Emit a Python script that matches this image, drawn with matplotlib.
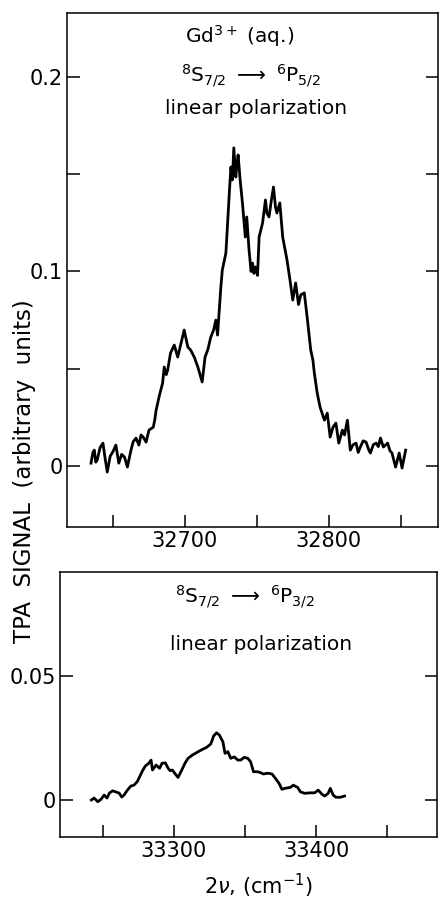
import matplotlib
matplotlib.use("Agg")
import matplotlib.pyplot as plt

plt.rcParams['font.family'] = ['DejaVu Sans']
plt.rcParams['mathtext.fontset'] = 'dejavusans'

# ---- data: upper panel (8S7/2 -> 6P5/2) ----
x_top = [32634.7, 32636, 32637, 32638, 32639, 32641, 32643, 32644.5, 32646, 32648,
         32650, 32652, 32654, 32656, 32658, 32660, 32662.5, 32664, 32666, 32668,
         32669.5, 32671, 32673, 32675, 32678, 32679, 32680, 32682, 32684.5, 32685.6,
         32687, 32688, 32690, 32692.6, 32695, 32697, 32699.5, 32702, 32704, 32706.5,
         32709, 32712, 32714, 32716, 32718, 32720, 32721.5, 32722.7, 32725, 32726,
         32728.5, 32731, 32732, 32733, 32734, 32735.4, 32736, 32737, 32738.4, 32740,
         32742, 32743, 32744.6, 32746, 32747, 32748, 32749, 32750.5, 32751.6, 32754,
         32756, 32757, 32758.5, 32760, 32761.6, 32763, 32764, 32766, 32768, 32771,
         32773, 32775, 32777, 32779, 32780.6, 32783, 32785, 32787.5, 32789, 32790,
         32792, 32794, 32797, 32799, 32801, 32803, 32805, 32807, 32809.5, 32811,
         32813, 32815, 32817, 32819, 32820.5, 32822, 32824, 32826, 32828, 32829,
         32831, 32833, 32834.5, 32836, 32838, 32841, 32842.5, 32844, 32846.5, 32849,
         32851, 32853.5]
y_top = [0.0015, 0.0070, 0.0082, 0.0020, 0.0031, 0.0095, 0.0118, 0.0040, -0.0031, 0.0050,
         0.0075, 0.0108, 0.0015, 0.0060, 0.0046, -0.0005, 0.0082, 0.0125, 0.0144, 0.0108,
         0.0160, 0.0149, 0.0123, 0.0185, 0.0200, 0.0236, 0.0288, 0.0355, 0.0427, 0.0509,
         0.0470, 0.0493, 0.0581, 0.0622, 0.0560, 0.0622, 0.0699, 0.0612, 0.0596, 0.0560,
         0.0509, 0.0432, 0.0560, 0.0600, 0.0663, 0.0700, 0.0750, 0.0673, 0.0920, 0.1007,
         0.1095, 0.1419, 0.1537, 0.1470, 0.1635, 0.1485, 0.1540, 0.1599, 0.1470, 0.1352,
         0.1177, 0.1280, 0.1110, 0.1000, 0.1043, 0.0990, 0.1023, 0.0980, 0.1177, 0.1249,
         0.1367, 0.1300, 0.1280, 0.1360, 0.1434, 0.1330, 0.1300, 0.1352, 0.1177, 0.1059,
         0.0960, 0.0853, 0.0941, 0.0830, 0.0880, 0.0890, 0.0766, 0.0596, 0.0545, 0.0478,
         0.0375, 0.0303, 0.0236, 0.0272, 0.0149, 0.0200, 0.0221, 0.0118, 0.0185, 0.0160,
         0.0236, 0.0082, 0.0110, 0.0118, 0.0070, 0.0098, 0.0130, 0.0123, 0.0080, 0.0067,
         0.0110, 0.0118, 0.0100, 0.0144, 0.0098, 0.0118, 0.0080, 0.0067, -0.0005, 0.0067,
         -0.0010, 0.0082]

# ---- data: lower panel (8S7/2 -> 6P3/2) ----
x_bot = [33242, 33244, 33246.6, 33249, 33251, 33253, 33254.7, 33257, 33259, 33261.6,
         33263.4, 33265, 33267.4, 33269.7, 33272, 33274.3, 33276, 33278, 33280, 33282.4,
         33284, 33285, 33287.5, 33290, 33291.7, 33294, 33296, 33297.4, 33299, 33301,
         33303, 33305.6, 33308, 33310, 33313, 33316, 33319.4, 33323, 33326, 33328,
         33330, 33332, 33334.5, 33336, 33338, 33340, 33342.5, 33345, 33347, 33349.5,
         33352, 33354, 33356, 33359, 33361, 33363, 33366, 33369, 33371.5, 33374,
         33376, 33378, 33382, 33384, 33387, 33389, 33392, 33396, 33399, 33401.5,
         33404, 33406, 33408.5, 33410, 33412, 33414, 33417, 33420]
y_bot = [0.0000, 0.0008, -0.0007, 0.0004, 0.0020, 0.0008, 0.0028, 0.0037, 0.0033, 0.0028,
         0.0012, 0.0020, 0.0040, 0.0056, 0.0060, 0.0074, 0.0094, 0.0118, 0.0137, 0.0148,
         0.0161, 0.0121, 0.0141, 0.0128, 0.0148, 0.0150, 0.0128, 0.0118, 0.0121, 0.0105,
         0.0091, 0.0121, 0.0150, 0.0168, 0.0181, 0.0191, 0.0202, 0.0212, 0.0226, 0.0258,
         0.0271, 0.0262, 0.0235, 0.0188, 0.0195, 0.0168, 0.0174, 0.0161, 0.0161, 0.0172,
         0.0168, 0.0154, 0.0114, 0.0114, 0.0110, 0.0105, 0.0108, 0.0105, 0.0087, 0.0067,
         0.0043, 0.0047, 0.0051, 0.0060, 0.0051, 0.0033, 0.0027, 0.0029, 0.0029, 0.0040,
         0.0024, 0.0016, 0.0027, 0.0047, 0.0020, 0.0011, 0.0011, 0.0016]

top_xticks = [32650, 32700, 32750, 32800, 32850]
top_xticklabels = ['', '32700', '', '32800', '']
top_yticks = [0, 0.05, 0.1, 0.15, 0.2]
top_yticklabels = ['0', '', '0.1', '', '0.2']
bot_xticks = [33250, 33300, 33350, 33400, 33450]
bot_xticklabels = ['', '33300', '', '33400', '']
bot_yticks = [0, 0.05]
bot_yticklabels = ['0', '0.05']

W, H = 441, 899
fig = plt.figure(figsize=(W / 100, H / 100), dpi=100)

def px_axes(l, t, r, b):
    return fig.add_axes([l / W, 1 - b / H, (r - l) / W, (b - t) / H])

ax1 = px_axes(67, 13, 438, 527)
ax2 = px_axes(60, 572, 437, 837)

lw_spine = 1.1
FS_TICK = 15
FS = 14.5

for ax in (ax1, ax2):
    for s in ax.spines.values():
        s.set_linewidth(lw_spine)
    ax.tick_params(axis='both', direction='in', width=lw_spine, length=9,
                   labelsize=FS_TICK)
    ax.tick_params(axis='y', right=True, left=True, labelright=False, pad=3)
    ax.tick_params(axis='x', top=False, pad=3)

ax1.plot(x_top, y_top, color='black', lw=2.0)
ax1.set_xlim(32618, 32876)
ax1.set_ylim(-0.0313, 0.2328)
ax1.set_xticks(top_xticks)
ax1.set_xticklabels(top_xticklabels)
ax1.set_yticks(top_yticks)
ax1.set_yticklabels(top_yticklabels)

ax2.plot(x_bot, y_bot, color='black', lw=2.0)
ax2.set_xlim(33220, 33485)
ax2.set_ylim(-0.0149, 0.0919)
ax2.set_xticks(bot_xticks)
ax2.set_xticklabels(bot_xticklabels)
ax2.set_yticks(bot_yticks)
ax2.set_yticklabels(bot_yticklabels)

def ftext(x, y, s, fs=FS, **kw):
    fig.text(x / W, 1 - y / H, s, ha='center', va='center', fontsize=fs, **kw)

ftext(240, 36, r'Gd$^{3+}$ (aq.)')
ftext(251, 76, r'$^{8}$S$_{7/2}$ $\longrightarrow$ $^{6}$P$_{5/2}$')
ftext(256, 109, 'linear polarization')
ftext(245, 597, r'$^{8}$S$_{7/2}$ $\longrightarrow$ $^{6}$P$_{3/2}$')
ftext(261, 644, 'linear polarization')
ftext(258, 886, r'2$\nu$, (cm$^{-1}$)', fs=15)
fig.text(25 / W, 1 - 471 / H, 'TPA  SIGNAL  (arbitrary  units)', rotation=90,
         ha='center', va='center', fontsize=16.5)

fig.savefig('out.png', dpi=100)
